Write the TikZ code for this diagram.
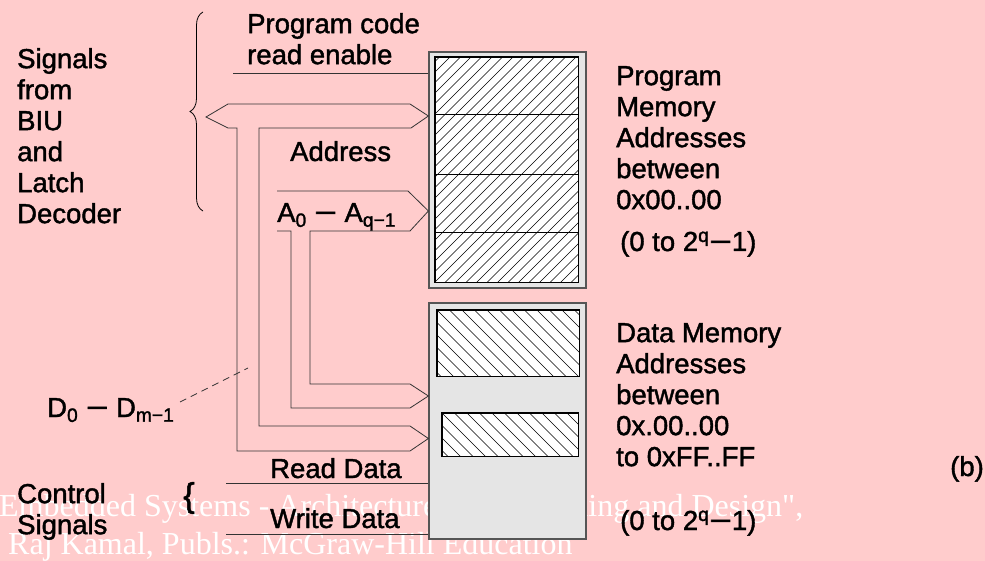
\documentclass[tikz,border=0pt]{standalone}
\usepackage{fontspec}
\setmainfont{Liberation Sans}[FakeBold=1.5]
\newfontfamily\labelfont{Liberation Sans}[FakeBold=1.5]
\newfontfamily\wmfont{Liberation Serif}
\usetikzlibrary{decorations.pathreplacing}
\definecolor{slidepink}{RGB}{255,204,204}
\definecolor{boxgray}{RGB}{229,229,229}
\definecolor{edgegray}{RGB}{85,85,85}
\newcommand\wdash{\scalebox{1.4}[1]{−}}

\begin{document}
\begin{tikzpicture}[x=1pt,y=-1pt,line join=miter]
 \tikzstyle{every node}=[inner sep=0pt,font=\fontsize{27.5}{31}\selectfont]
 \tikzstyle{label}=[anchor=north west,align=left]
 \tikzstyle{bus}=[draw=black!80,line width=0.8pt]
 \tikzstyle{membox}=[draw=edgegray,fill=boxgray,line width=1.2pt,minimum width=157pt,minimum height=236pt]
 \tikzstyle{hatchbox}=[draw=black,fill=white,line width=0.9pt]
 \tikzstyle{hatch}=[black,line width=0.5pt]
 \tikzstyle{watermark}=[anchor=base west,text=white,font={\wmfont\fontsize{32}{38}\selectfont}]

   \fill[slidepink] (0,0) rectangle (985,561);
   \useasboundingbox (0,0) rectangle (985,561);

   % watermark of the slide
   \node[watermark] (wm1) at (-1,516) {Embedded Systems - Architecture, Programming and Design",};
   \node[watermark] (wm2) at (8,554) {Raj Kamal, Publs.: McGraw-Hill Education};

   % memories
   \node[membox] (pmem) at (507.5,170) {};
   \node[membox] (dmem) at (507.5,421) {};
   \node[hatchbox,minimum width=143pt,minimum height=225pt] (pcells) at (506.5,169.5) {};
   \node[hatchbox,minimum width=142pt,minimum height=66pt] (dtop) at (508,343) {};
   \node[hatchbox,minimum width=136pt,minimum height=43pt] (dlow) at (510,434.5) {};

   \begin{scope}
     \clip (pcells.south west) rectangle (pcells.north east);
     \foreach \k in {-23,...,15}
       \draw[hatch] ([xshift=\k*10.5pt]pcells.south west) -- ++(260,-260);
   \end{scope}
   \begin{scope}
     \clip (dtop.south west) rectangle (dtop.north east);
     \foreach \k in {-6,...,12}
       \draw[hatch] ([xshift=\k*12.5pt]dtop.north west) -- ++(100,100);
   \end{scope}
   \begin{scope}
     \clip (dlow.south west) rectangle (dlow.north east);
     \foreach \k in {-4,...,12}
       \draw[hatch] ([xshift=\k*12.5pt]dlow.north west) -- ++(100,100);
   \end{scope}
   \foreach \n in {pcells,dtop,dlow}
     \draw[line width=0.9pt] (\n.south west) rectangle (\n.north east);
   \foreach \y in {114,174,232}
     \draw[line width=0.9pt] (pcells.west |- 0,\y) -- (pcells.east |- 0,\y);

   % buses and control lines
   \draw[bus] (206,117) -- (228,104) -- (410,104) -- (pmem.west |- 0,116) -- (411,128)
     -- (259,128) -- (259,426) -- (410,426) -- (dmem.west |- 0,438.5) -- (410,451)
     -- (237,451) -- (237,128) -- (228,128) -- cycle;
   \draw[bus] (277,191) -- (408,191) -- (pmem.west |- 0,211) -- (410,231) -- (310,231)
     -- (310,384) -- (410,384) -- (dmem.west |- 0,396) -- (410,408) -- (291,408)
     -- (291,231) -- (277,231);
   \draw[bus] (233,73) -- (pmem.west |- 0,73);
   \draw[bus] (226,483) -- (dmem.west |- 0,483);
   \draw[bus] (226,534) -- (dmem.west |- 0,534);

   \coordinate (dstart) at (180,402);
   \coordinate (dend) at (248,368);
   \draw[bus,dash pattern=on 7pt off 5pt] (dstart) -- (dend);

   % braces
   \draw[decorate,decoration={brace,amplitude=13pt},line width=0.8pt] (203,211) -- (203,12);
   \node (cbrace) at (189,498) {\fontsize{34}{34}\selectfont\{};

   % texts
   \node[label] (biu) at (17,48) {Signals\\from\\BIU\\and\\Latch\\Decoder};
   \node[label] (rden) at (247,13) {Program code\\read enable};
   \node[anchor=base west] (addr) at (290,161) {Address};
   \node[anchor=base west] (abus) at (277,222) {A\textsubscript{0} \wdash{} A\textsubscript{q−1}};
   \node[label] (pmtext) at (616,66) {Program\\Memory\\Addresses\\between\\0x00..00};
   \node[anchor=base west] (prange) at (620,251) {(0 to 2\textsuperscript{q}\wdash{}1)};
   \node[label] (dmtext) at (616,323) {Data Memory\\Addresses\\between\\0x.00..00\\to 0xFF..FF};
   \node[anchor=base west] (drange) at (620,530) {(0 to 2\textsuperscript{q}\wdash{}1)};
   \node[anchor=base west] (fig) at (950,476) {(b)};
   \node[anchor=base west] (dlabel) at (47,417) {D\textsubscript{0} \wdash{} D\textsubscript{m−1}};
   \node[label] (ctrl) at (17,483) {Control\\Signals};
   \node[anchor=base west] (rd) at (270,478) {Read Data};
   \node[anchor=base west] (wr) at (270,528) {Write Data};

\end{tikzpicture}
\end{document}
